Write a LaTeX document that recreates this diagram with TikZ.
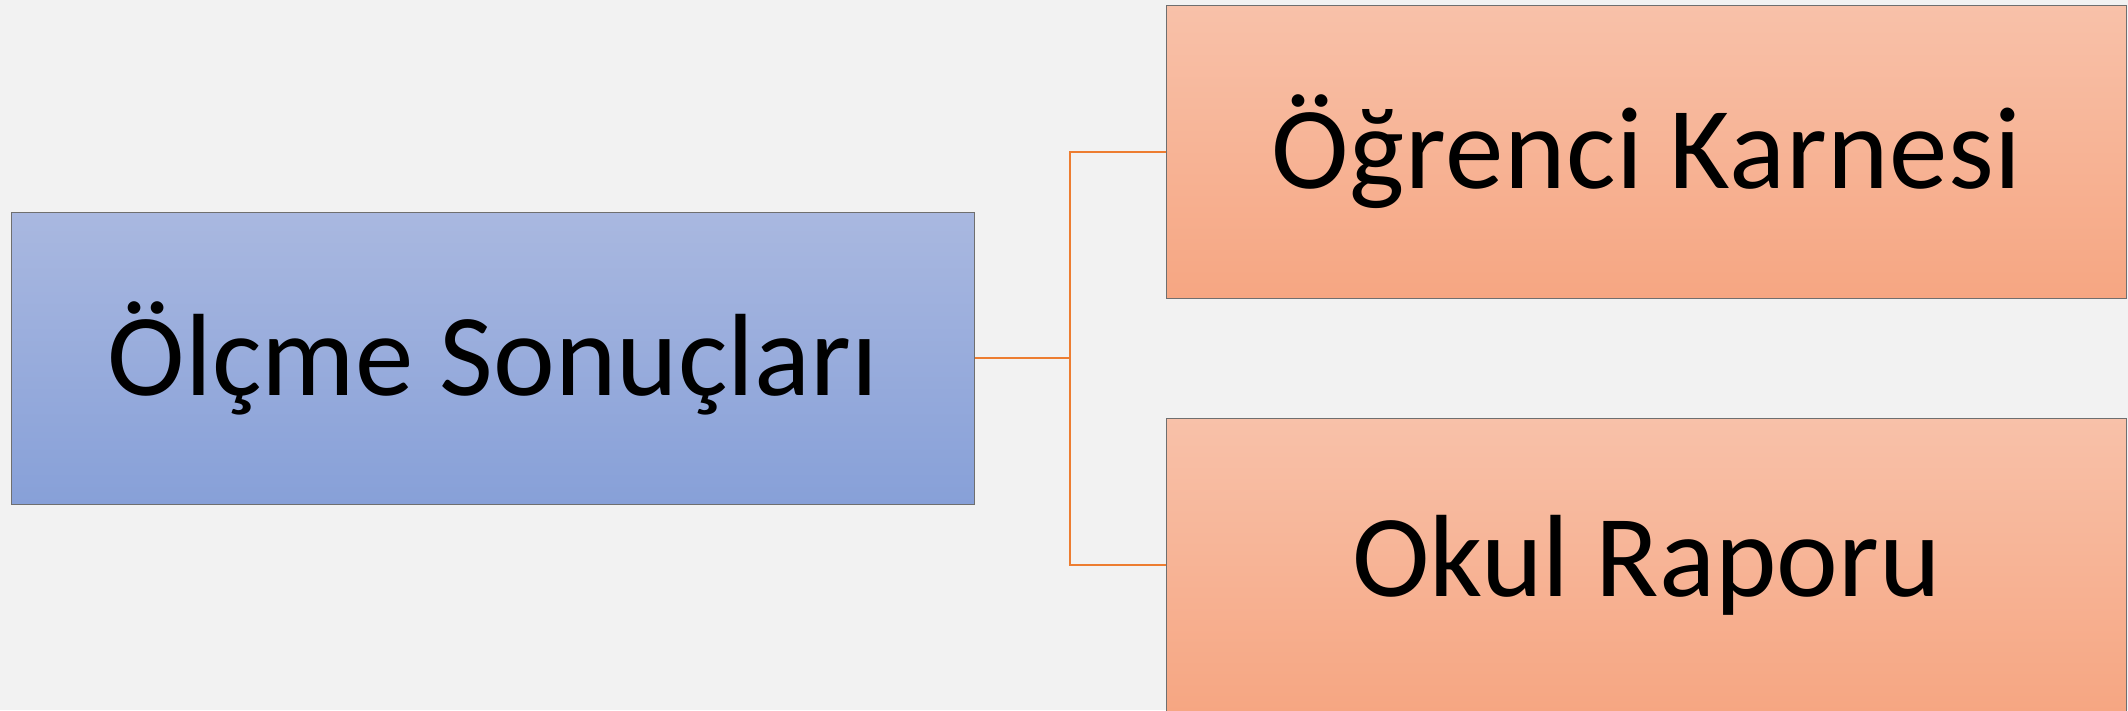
\documentclass[tikz,border=0pt]{standalone}
\usepackage{fontspec}
\setmainfont{Carlito}
\definecolor{bg}{HTML}{F2F2F2}
\definecolor{bluetop}{HTML}{A9B8E0}
\definecolor{bluebot}{HTML}{87A0D8}
\definecolor{orgtop}{HTML}{F8C1A9}
\definecolor{orgbot}{HTML}{F6A682}
\definecolor{edge}{HTML}{6F6F6F}
\definecolor{conn}{HTML}{ED7D31}
\begin{document}
\begin{tikzpicture}[x=1pt,y=-1pt,
  box/.style={rectangle, draw=edge, line width=1.2pt, inner sep=0pt, anchor=north west, text=black, font=\fontsize{117}{130}\selectfont},
  bluebox/.style={box, top color=bluetop, bottom color=bluebot},
  orgbox/.style={box, top color=orgtop, bottom color=orgbot},
  link/.style={draw=conn, line width=1.6pt}]
\fill[bg] (0,0) rectangle (2128,710);
\useasboundingbox (0,0) rectangle (2128,710);
\node[bluebox, minimum width=963pt, minimum height=292pt] (src) at (11,212) {Ölçme Sonuçları};
\node[orgbox, minimum width=960pt, minimum height=293pt, font=\fontsize{117}{130}\selectfont\addfontfeature{LetterSpace=0.5}] (t1) at (1166,5) {Öğrenci Karnesi};
\node[orgbox, minimum width=960pt, minimum height=293pt] (t2) at (1166,418) {Okul Raporu};
\coordinate (j) at (1070,358);
\draw[link] (src.east |- j) -- (j);
\draw[link] (j) |- (t1.west);
\draw[link] (j) |- (t2.west);
\end{tikzpicture}
\end{document}
